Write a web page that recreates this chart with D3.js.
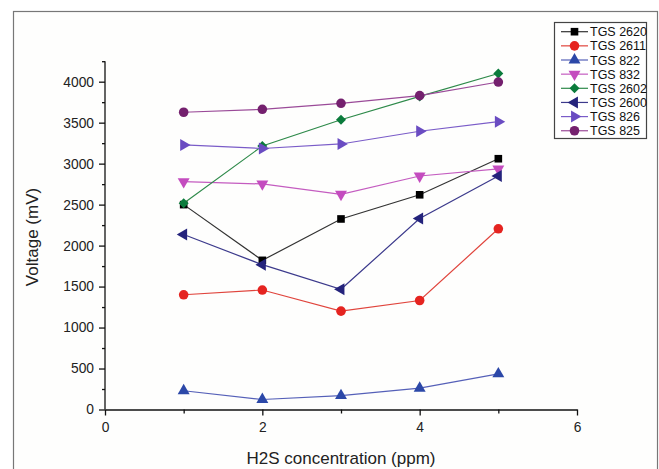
<html>

<body>
    <svg id='viz'></svg>
</body>
<style>
    body {
        margin: 0;
        background: #fff;
    }

    svg {
        display: block;
        font-family: Arial, "Liberation Sans", sans-serif;
    }

    .axis path,
    .axis line {
        stroke: #111;
        stroke-width: 1.3px;
    }

    .axis text {
        font-size: 13.8px;
        fill: #222;
    }
</style>
<script src='https://d3js.org/d3.v7.min.js'></script>
<script>
    var width = 659;
    var height = 469;

    // H2S concentration (ppm)
    var concentration = [1, 2, 3, 4, 5];

    // sensor voltages (mV)
    var tgs2620 = [2500, 1820, 2325, 2620, 3060];
    var tgs2611 = [1400, 1458, 1200, 1330, 2205];
    var tgs822 = [229, 122, 170, 260, 435];
    var tgs832 = [2780, 2752, 2626, 2849, 2935];
    var tgs2602 = [2516, 3215, 3535, 3820, 4100];
    var tgs2600 = [2135, 1767, 1467, 2330, 2850];
    var tgs826 = [3228, 3185, 3240, 3395, 3512];
    var tgs825 = [3627, 3663, 3736, 3830, 3996];

    var seriesNames = ["TGS 2620", "TGS 2611", "TGS 822", "TGS 832", "TGS 2602", "TGS 2600", "TGS 826", "TGS 825"];

    var xMajor = [0, 2, 4, 6];
    var xMinor = [1, 3, 5];
    var yMajor = [0, 500, 1000, 1500, 2000, 2500, 3000, 3500, 4000];
    var yMinor = [250, 750, 1250, 1750, 2250, 2750, 3250, 3750, 4250];

    var series = [
        { name: seriesNames[0], values: tgs2620, color: "#000000", line: "#333333", shape: d3.symbolSquare, size: 58, rotate: 0 },
        { name: seriesNames[1], values: tgs2611, color: "#e52420", line: "#e0443c", shape: d3.symbolCircle, size: 72, rotate: 0 },
        { name: seriesNames[2], values: tgs822, color: "#2c48a8", line: "#5560b8", shape: d3.symbolTriangle, size: 62, rotate: 0 },
        { name: seriesNames[3], values: tgs832, color: "#c44cbf", line: "#c45cc0", shape: d3.symbolTriangle, size: 62, rotate: 180 },
        { name: seriesNames[4], values: tgs2602, color: "#0b7b3c", line: "#2e8a4a", shape: d3.symbolSquare, size: 50, rotate: 45 },
        { name: seriesNames[5], values: tgs2600, color: "#24237c", line: "#3c3a8c", shape: d3.symbolTriangle, size: 62, rotate: -90 },
        { name: seriesNames[6], values: tgs826, color: "#6a4cc2", line: "#7a5cc8", shape: d3.symbolTriangle, size: 62, rotate: 90 },
        { name: seriesNames[7], values: tgs825, color: "#74206e", line: "#9a4a98", shape: d3.symbolCircle, size: 72, rotate: 0 }
    ];

    var svg = d3.select("#viz").attr("width", width).attr("height", height);

    // outer frame of the figure
    svg.append("rect")
        .attr("x", 13.5).attr("y", 11.5)
        .attr("width", 644).attr("height", 470)
        .attr("fill", "#fefefd")
        .attr("stroke", "#777")
        .attr("stroke-width", 1.2);

    var x = d3.scaleLinear().domain([0, 6]).range([105, 577]);
    var y = d3.scaleLinear().domain([0, 4250]).range([409.5, 61.2]);

    // y axis
    svg.append("g").attr("class", "axis")
        .attr("transform", "translate(" + x(0) + ",0)")
        .call(d3.axisLeft(y).tickValues(yMinor).tickSize(3).tickFormat(""))
        .select(".domain").remove();
    svg.append("g").attr("class", "axis")
        .attr("transform", "translate(" + x(0) + ",0)")
        .call(d3.axisLeft(y).tickValues(yMajor).tickSize(6).tickPadding(5).tickSizeOuter(0).tickFormat(d3.format("d")))
        .select(".domain").attr("d", "M0," + y(4250) + "V" + y(0));

    // x axis
    svg.append("g").attr("class", "axis")
        .attr("transform", "translate(0," + y(0) + ")")
        .call(d3.axisBottom(x).tickValues(xMinor).tickSize(4).tickFormat(""))
        .select(".domain").remove();
    svg.append("g").attr("class", "axis")
        .attr("transform", "translate(0," + y(0) + ")")
        .call(d3.axisBottom(x).tickValues(xMajor).tickSize(6).tickPadding(7).tickSizeOuter(0).tickFormat(d3.format("d")));

    // axis titles
    svg.append("text")
        .attr("x", 341).attr("y", 464)
        .attr("text-anchor", "middle")
        .style("font-size", "17px").style("fill", "#222")
        .text("H2S concentration (ppm)");

    svg.append("text")
        .attr("transform", "translate(38,237) rotate(-90)")
        .attr("text-anchor", "middle")
        .style("font-size", "17px").style("fill", "#222")
        .text("Voltage (mV)");

    var line = d3.line()
        .x(function (d, i) { return x(concentration[i]); })
        .y(function (d) { return y(d); });

    var groups = svg.append("g").selectAll("g")
        .data(series)
        .enter().append("g");

    groups.append("path")
        .attr("d", function (d) { return line(d.values); })
        .attr("fill", "none")
        .attr("stroke", function (d) { return d.line; })
        .attr("stroke-width", 1.2);

    groups.each(function (s) {
        d3.select(this).selectAll(".pt")
            .data(s.values)
            .enter().append("path")
            .attr("class", "pt")
            .attr("d", d3.symbol().type(s.shape).size(s.size))
            .attr("transform", function (d, i) {
                return "translate(" + x(concentration[i]) + "," + y(d) + ") rotate(" + s.rotate + ")";
            })
            .attr("fill", s.color);
    });

    // legend
    var legend = svg.append("g");
    legend.append("rect")
        .attr("x", 554.5).attr("y", 22.5)
        .attr("width", 92).attr("height", 116)
        .attr("fill", "#fff")
        .attr("stroke", "#444")
        .attr("stroke-width", 1.2);

    var rows = legend.selectAll(".row")
        .data(series)
        .enter().append("g")
        .attr("class", "row")
        .attr("transform", function (d, i) { return "translate(0," + (31.7 + i * 14.15) + ")"; });

    rows.append("line")
        .attr("x1", 561).attr("x2", 588)
        .attr("stroke", function (d) { return d.line; })
        .attr("stroke-width", 1.2);

    rows.append("path")
        .attr("d", function (d) { return d3.symbol().type(d.shape).size(d.size)(); })
        .attr("transform", function (d) { return "translate(574.5,0) rotate(" + d.rotate + ")"; })
        .attr("fill", function (d) { return d.color; });

    rows.append("text")
        .attr("x", 590).attr("y", 0).attr("dy", "0.36em")
        .style("font-size", "12.5px").style("fill", "#111")
        .text(function (d) { return d.name; });
</script>

</html>
